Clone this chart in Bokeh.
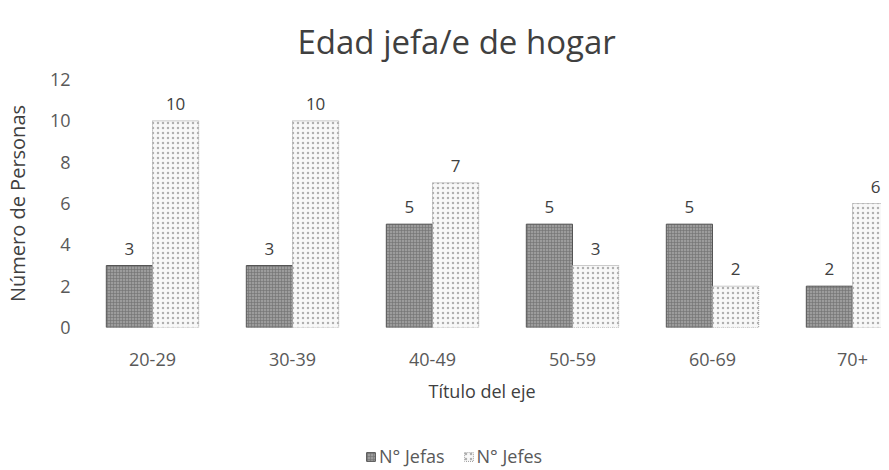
from bokeh.plotting import figure
from bokeh.layouts import column
from bokeh.models import ColumnDataSource, Legend, LegendItem, Title, FixedTicker
from bokeh.core.properties import value
from bokeh.embed import file_html
from bokeh.resources import INLINE

categories = ["20-29", "30-39", "40-49", "50-59", "60-69", "70+"]
jefas = [3, 3, 5, 5, 5, 2]
jefes = [10, 10, 7, 3, 2, 6]
y_ticks = [0, 2, 4, 6, 8, 10, 12]
series_names = ["N° Jefas", "N° Jefes"]

FONT = "Open Sans"
TXT = "#595959"
centers = [i + 0.5 for i in range(len(categories))]
bw = 0.33

STYLE_A = dict(fill_color="#9c9c9c", line_color="#555555", line_width=1,
               hatch_pattern="cross", hatch_color="#707070", hatch_scale=3, hatch_weight=0.6)
STYLE_B = dict(fill_color="#f8f8f8", line_color="#9a9a9a", line_width=1, line_dash="1 1",
               hatch_pattern="dot", hatch_color="#b0b0b0", hatch_scale=5, hatch_weight=1)

src_a = ColumnDataSource(dict(x=[c - bw / 2 for c in centers], top=jefas, lab=[str(v) for v in jefas]))
src_b = ColumnDataSource(dict(x=[c + bw / 2 for c in centers], top=jefes, lab=[str(v) for v in jefes]))

W = 881
p = figure(width=W, height=428, output_backend="svg", toolbar_location=None,
           x_range=(0, (W - 82) / 140), y_range=(0, 12),
           min_border_left=82, min_border_right=0, min_border_top=78, min_border_bottom=101)
p.outline_line_color = None
p.xgrid.grid_line_color = None
p.ygrid.grid_line_color = None

p.vbar(x="x", top="top", width=bw, source=src_a, **STYLE_A)
p.vbar(x="x", top="top", width=bw, source=src_b, **STYLE_B)

for s in (src_a, src_b):
    p.text(x="x", y="top", text="lab", source=s, text_align="center", text_baseline="bottom",
           y_offset=-11, text_font=value(FONT), text_font_size="17px", text_color="#404040")

p.xaxis.ticker = FixedTicker(ticks=centers)
p.xaxis.major_label_overrides = {c: lab for c, lab in zip(centers, categories)}
p.yaxis.ticker = FixedTicker(ticks=y_ticks)
for ax in (p.xaxis, p.yaxis):
    ax.axis_line_color = None
    ax.major_tick_line_color = None
    ax.minor_tick_line_color = None
    ax.major_label_text_font = FONT
    ax.major_label_text_font_size = "18px"
    ax.major_label_text_color = TXT
    ax.axis_label_text_font = FONT
    ax.axis_label_text_font_style = "normal"
    ax.axis_label_text_color = "#404040"
p.xaxis.major_label_standoff = 19
p.yaxis.major_label_standoff = 6
p.xaxis.axis_label = "Título del eje"
p.xaxis.axis_label_text_font_size = "18px"
p.xaxis.axis_label_standoff = 10
p.yaxis.axis_label = "Número de Personas"
p.yaxis.axis_label_text_font_size = "20px"
p.yaxis.axis_label_standoff = 16

p.add_layout(Title(text="Edad jefa/e de hogar", align="left", offset=215,
                   text_font=FONT, text_font_size="33px", text_font_style="normal",
                   text_color="#404040", standoff=32), "above")

# legend strip below the chart
lf = figure(width=W, height=40, output_backend="svg", toolbar_location=None,
            x_range=(0, 1), y_range=(0, 1), min_border=0,
            x_axis_type=None, y_axis_type=None)
lf.grid.visible = False
lf.outline_line_color = None
la = lf.vbar(x=[5], top=[1], width=0.1, **STYLE_A)
lb = lf.vbar(x=[5], top=[1], width=0.1, **STYLE_B)
legend = Legend(items=[LegendItem(label=series_names[0], renderers=[la]),
                       LegendItem(label=series_names[1], renderers=[lb])],
                orientation="horizontal", location=(283, 0),
                label_text_font=FONT, label_text_font_size="18px", label_text_color=TXT,
                glyph_width=11, glyph_height=11, label_standoff=3, spacing=18,
                border_line_color=None, background_fill_alpha=0, padding=0, margin=0)
lf.add_layout(legend, "center")

open("out.html", "w").write(file_html(column(p, lf, spacing=0), INLINE))
